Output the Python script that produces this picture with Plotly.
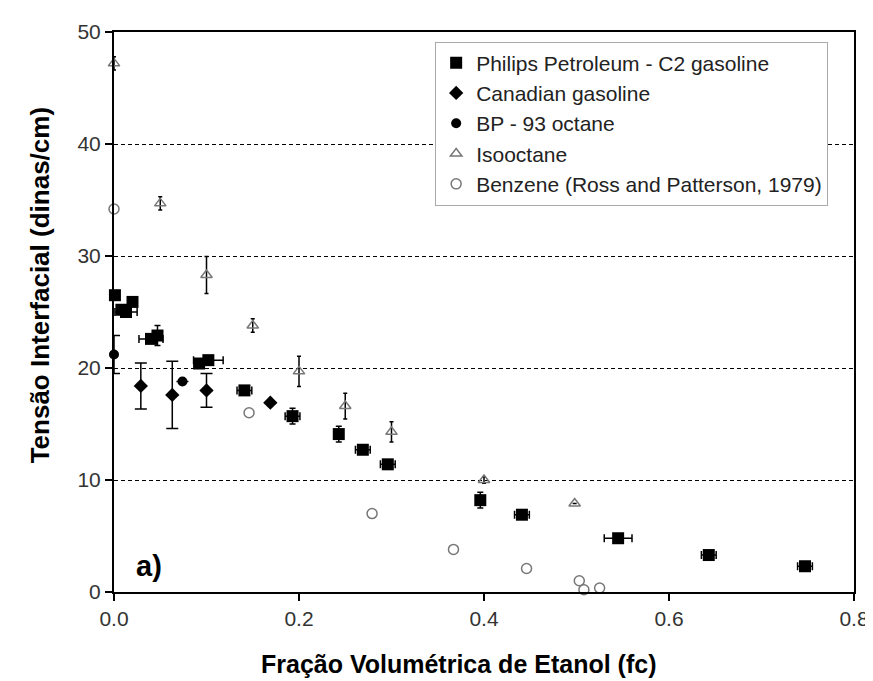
import plotly.graph_objects as go

# ---- data ----
philips_x = [0.001, 0.008, 0.013, 0.020, 0.040, 0.047, 0.092, 0.102, 0.141, 0.193,
             0.243, 0.269, 0.296, 0.396, 0.441, 0.545, 0.643, 0.747]
philips_y = [26.5, 25.2, 25.0, 25.9, 22.6, 22.9, 20.4, 20.7, 18.0, 15.7,
             14.1, 12.7, 11.4, 8.2, 6.9, 4.8, 3.3, 2.3]
philips_xerr = [None, None, 0.012, None, 0.013, None, None, 0.016, 0.008, 0.008,
                None, 0.008, 0.008, None, 0.008, 0.015, 0.008, 0.008]
philips_yerr = [None, None, None, None, None, 0.9, None, None, None, 0.7,
                0.7, None, None, 0.7, None, None, None, None]

canadian_x = [0.029, 0.063, 0.100, 0.169]
canadian_y = [18.4, 17.6, 18.0, 16.9]
canadian_yerr = [2.05, 3.0, 1.5, None]

bp_x = [0.0, 0.074]
bp_y = [21.2, 18.8]
bp_yerr = [1.7, None]

iso_x = [0.0, 0.050, 0.100, 0.150, 0.200, 0.250, 0.300, 0.400, 0.498]
iso_y = [47.2, 34.7, 28.3, 23.8, 19.7, 16.6, 14.3, 10.0, 7.9]
iso_yerr = [0.6, 0.6, 1.65, 0.6, 1.35, 1.15, 0.9, 0.3, None]

benz_x = [0.0, 0.146, 0.279, 0.367, 0.446, 0.503, 0.508, 0.525]
benz_y = [34.2, 16.0, 7.0, 3.8, 2.1, 1.0, 0.2, 0.35]

x_ticks = [0.0, 0.2, 0.4, 0.6, 0.8]
x_ticktext = ["0.0", "0.2", "0.4", "0.6", "0.8"]
y_ticks = [0, 10, 20, 30, 40, 50]

FONT = "Arial, Liberation Sans, sans-serif"


def err(arr, w=5):
    return dict(type="data", array=[a if a is not None else float("nan") for a in arr],
                symmetric=True, color="black", thickness=1.5, width=w, visible=True)


fig = go.Figure()
fig.add_trace(go.Scatter(
    x=philips_x, y=philips_y, mode="markers", name="Philips Petroleum - C2 gasoline",
    marker=dict(symbol="square", size=12, color="black"),
    error_x=err(philips_xerr, 4), error_y=err(philips_yerr, 3), cliponaxis=False))
fig.add_trace(go.Scatter(
    x=canadian_x, y=canadian_y, mode="markers", name="Canadian gasoline",
    marker=dict(symbol="diamond", size=11, color="black"),
    error_y=err(canadian_yerr, 6), cliponaxis=False))
fig.add_trace(go.Scatter(
    x=bp_x, y=bp_y, mode="markers", name="BP - 93 octane",
    marker=dict(symbol="circle", size=10, color="black"),
    error_y=err(bp_yerr, 6), cliponaxis=False))
fig.add_trace(go.Scatter(
    x=iso_x, y=iso_y, mode="markers", name="Isooctane",
    marker=dict(symbol="triangle-up-open", size=10, color="#777777",
                line=dict(width=1.5, color="#777777")),
    error_y=err(iso_yerr, 2), cliponaxis=False))
fig.add_trace(go.Scatter(
    x=benz_x, y=benz_y, mode="markers", name="Benzene (Ross and Patterson, 1979)",
    marker=dict(symbol="circle-open", size=10, color="#777777",
                line=dict(width=1.5, color="#777777")),
    cliponaxis=False))

fig.update_layout(
    width=873, height=681,
    margin=dict(l=106, r=20, t=24, b=97),
    plot_bgcolor="white", paper_bgcolor="white",
    font=dict(family=FONT, color="#333333", size=20),
    showlegend=True,
    legend=dict(x=0.434, y=0.983, xanchor="left", yanchor="top",
                bgcolor="white", bordercolor="#aaaaaa", borderwidth=1,
                font=dict(family=FONT, size=21, color="#222222"),
                itemwidth=30),
    xaxis=dict(range=[0, 0.8], tickvals=x_ticks, ticktext=x_ticktext,
               ticks="outside", ticklen=7, tickwidth=1.5, tickcolor="black",
               showline=True, linewidth=2, linecolor="black", mirror=True,
               showgrid=False, zeroline=False,
               tickfont=dict(size=21, family=FONT, color="#333333")),
    yaxis=dict(range=[0, 50], tickvals=y_ticks,
               ticks="outside", ticklen=7, tickwidth=1.5, tickcolor="black",
               showline=True, linewidth=2, linecolor="black", mirror=True,
               showgrid=True, gridcolor="black", gridwidth=1.2, griddash="4px,3px",
               zeroline=False,
               tickfont=dict(size=21, family=FONT, color="#333333")),
    annotations=[
        dict(text="<b>a)</b>", x=0.038, y=2.3, xref="x", yref="y",
             showarrow=False, font=dict(size=29, family=FONT, color="black")),
        dict(text="<b>Fração Volumétrica de Etanol (fc)</b>", x=0.465, y=-0.128,
             xref="paper", yref="paper", showarrow=False, yanchor="middle",
             font=dict(size=25, family=FONT, color="black")),
        dict(text="<b>Tensão Interfacial (dinas/cm)</b>", x=-0.0997, y=0.548,
             xref="paper", yref="paper", showarrow=False, textangle=-90,
             xanchor="center", yanchor="middle",
             font=dict(size=26, family=FONT, color="black")),
    ],
)

fig.write_html("out.html")
